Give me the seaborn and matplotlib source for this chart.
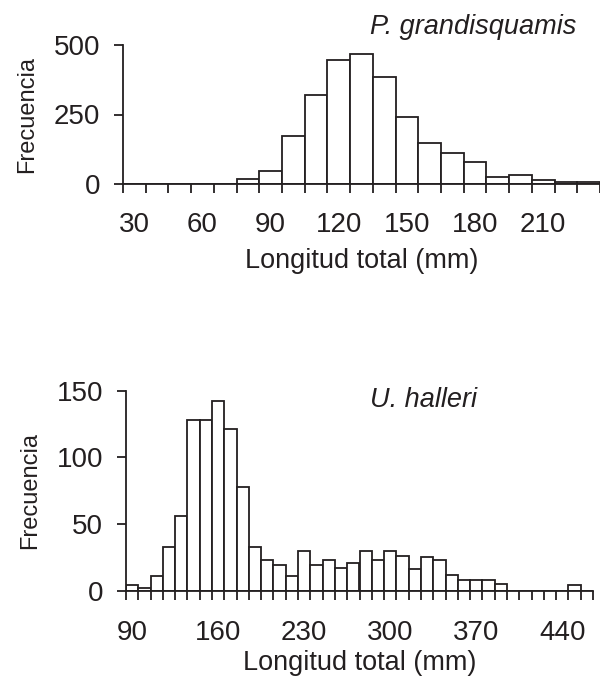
import numpy as np
import pandas as pd
import matplotlib
matplotlib.use('Agg')
import matplotlib.pyplot as plt
import seaborn as sns

# bin centres (mm) and counts
pg_centers = [30, 40, 50, 60, 70, 80, 90, 100, 110, 120, 130, 140, 150,
              160, 170, 180, 190, 200, 210, 220, 230]
pg_counts = [0, 0, 0, 0, 0, 18, 46, 173, 320, 446, 468, 386, 240,
             146, 113, 79, 25, 34, 13, 7, 7]
pg_ticks = [30, 60, 90, 120, 150, 180, 210]
pg_yticks = [0, 250, 500]

uh_centers = list(range(90, 470, 10))
uh_counts = [4, 2, 11, 33, 56, 128, 128, 142, 121, 78, 33, 23, 19, 11, 30,
             19, 23, 17, 21, 30, 23, 30, 26, 16, 25, 23, 12, 8, 8, 8, 5,
             0, 0, 0, 0, 0, 4, 0]
uh_ticks = [90, 160, 230, 300, 370, 440]
uh_yticks = [0, 50, 100, 150]

ink = '#231f20'
sns.set_style('ticks')
plt.rcParams['font.family'] = ['Liberation Sans', 'DejaVu Sans']
plt.rcParams['text.color'] = ink
plt.rcParams['axes.labelcolor'] = ink
plt.rcParams['xtick.color'] = ink
plt.rcParams['ytick.color'] = ink

W, H = 600, 678
fig = plt.figure(figsize=(W / 100, H / 100), dpi=100)


def px_axes(l, r, top, bottom):
    return fig.add_axes([l / W, 1 - bottom / H, (r - l) / W, (bottom - top) / H])


def style_axis(ax, centers, counts, ticks, yticks, xlim, tick_family,
               xpad, xlabelpad):
    df = pd.DataFrame({'len': centers, 'n': counts})
    sns.barplot(data=df, x='len', y='n', native_scale=True, width=1, ax=ax,
                color='white', edgecolor=ink, linewidth=1.3, saturation=1,
                errorbar=None)
    edges = np.arange(centers[0] - 5, centers[-1] + 10, 10)
    ax.set_xlim(*xlim)
    ax.set_ylim(yticks[0], yticks[-1])
    for s in ['top', 'right']:
        ax.spines[s].set_visible(False)
    for s in ['left', 'bottom']:
        ax.spines[s].set_linewidth(1.3)
        ax.spines[s].set_color(ink)
    ax.set_xticks(ticks)
    ax.set_xticks(edges, minor=True)
    ax.set_yticks(yticks)
    ax.tick_params(axis='x', which='major', length=0, pad=xpad, labelsize=20)
    ax.tick_params(axis='x', which='minor', length=6.5, width=1.3)
    ax.tick_params(axis='y', which='major', length=6.5, width=1.3, pad=10, labelsize=20)
    for lab in ax.get_xticklabels() + ax.get_yticklabels():
        lab.set_family(tick_family)
    ax.set_xlabel('Longitud total (mm)', fontsize=19.5, labelpad=xlabelpad)
    ax.set_ylabel('Frecuencia', fontsize=17, labelpad=11)
    ax.patch.set_alpha(0)


ax1 = px_axes(123, 600, 45, 184)
style_axis(ax1, pg_centers, pg_counts, pg_ticks, pg_yticks, (25, 233.3),
           ['Liberation Sans', 'DejaVu Sans'], 20, 7)

ax2 = px_axes(126, 593, 390.7, 590.7)
style_axis(ax2, uh_centers, uh_counts, uh_ticks, uh_yticks, (85, 465),
           ['Liberation Sans Narrow', 'Liberation Sans', 'DejaVu Sans'], 21, 3)

fig.text(370 / W, 1 - 34 / H, 'P. grandisquamis', style='italic',
         fontsize=19.5, va='baseline', ha='left')
fig.text(370 / W, 1 - 407 / H, 'U. halleri', style='italic',
         fontsize=19.5, va='baseline', ha='left')

fig.savefig('out.png', dpi=100)
